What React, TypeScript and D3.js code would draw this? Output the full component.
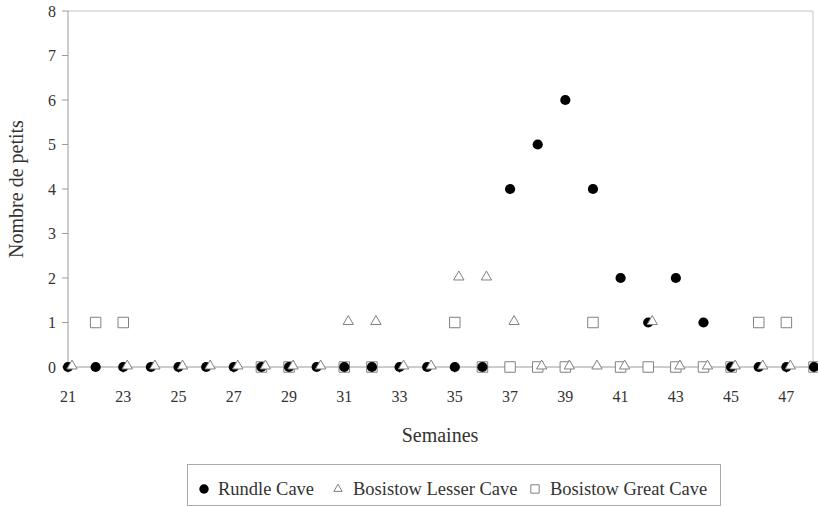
import React from "react";
import * as d3 from "d3";

// Rundle Cave (filled circles)
const rundleWeeks = [21,22,23,24,25,26,27,28,29,30,31,32,33,34,35,36,37,38,39,40,41,42,43,44,45,46,47,48];
const rundleValues = [0,0,0,0,0,0,0,0,0,0,0,0,0,0,0,0,4,5,6,4,2,1,2,1,0,0,0,0];
// Bosistow Lesser Cave (triangles)
const lesserWeeks = [21,23,24,25,26,27,28,29,30,31,32,33,34,35,36,37,38,39,40,41,42,43,44,45,46,47];
const lesserValues = [0,0,0,0,0,0,0,0,0,1,1,0,0,2,2,1,0,0,0,0,1,0,0,0,0,0];
// Bosistow Great Cave (squares)
const greatWeeks = [22,23,28,29,31,32,35,36,37,38,39,40,41,42,43,44,45,46,47,48];
const greatValues = [1,1,0,0,0,0,1,0,0,0,0,1,0,0,0,0,0,1,1,0];

const xTicks = [21,23,25,27,29,31,33,35,37,39,41,43,45,47];
const yTicks = [0,1,2,3,4,5,6,7,8];
const legendLabels = ["Rundle Cave", "Bosistow Lesser Cave", "Bosistow Great Cave"];

const FONT = '"Liberation Serif", "DejaVu Serif", Times, serif';

export default function App() {
  const x = d3.scaleLinear().domain([21, 48]).range([68, 814]);
  const y = d3.scaleLinear().domain([0, 8]).range([367, 11]);
  const circlePath = d3.symbol().type(d3.symbolCircle).size(82)()!;
  const triPath = d3.symbol().type(d3.symbolTriangle).size(46)()!;
  const sqPath = d3.symbol().type(d3.symbolSquare).size(110)()!;
  const triLegend = d3.symbol().type(d3.symbolTriangle).size(30)()!;
  const sqLegend = d3.symbol().type(d3.symbolSquare).size(70)()!;
  const circLegend = d3.symbol().type(d3.symbolCircle).size(70)()!;
  const axisColor = "#9a9a9a";
  const markColor = "#808080";
  const [x0, x1] = x.range();
  const [yb, yt] = y.range();
  const ts = { fontFamily: FONT } as React.CSSProperties;

  return (
    <svg width={818} height={507} style={{ position: "absolute", left: 0, top: 0, background: "#fff", fontFamily: FONT }}>
      <line x1={x0} x2={x1 - 1} y1={yt} y2={yt} stroke="#c4c4c4" />
      <line x1={x1 - 1} x2={x1 - 1} y1={yt} y2={yb} stroke="#c4c4c4" />
      <line x1={x0} x2={x0} y1={yt} y2={yb} stroke={axisColor} />
      <line x1={x0} x2={x1} y1={yb} y2={yb} stroke={axisColor} />
      {yTicks.map((t) => (
        <g key={"y" + t}>
          <line x1={x0 - 6} x2={x0} y1={y(t)} y2={y(t)} stroke={axisColor} />
          <text style={ts} x={x0 - 12} y={y(t)} dy="0.35em" textAnchor="end" fontSize={16} fill="#333">{t}</text>
        </g>
      ))}
      {xTicks.map((t) => (
        <g key={"x" + t}>
          <line x1={x(t)} x2={x(t)} y1={yb} y2={yb + 6} stroke={axisColor} />
          <text style={ts} x={x(t)} y={yb + 35} textAnchor="middle" fontSize={16} fill="#333">{t}</text>
        </g>
      ))}
      {greatWeeks.map((w, i) => (
        <path key={"s" + w} d={sqPath} transform={`translate(${x(w)},${y(greatValues[i])})`} fill="#fff" stroke={markColor} strokeWidth={1} />
      ))}
      {rundleWeeks.map((w, i) => (
        <path key={"c" + w} d={circlePath} transform={`translate(${x(w)},${y(rundleValues[i])})`} fill="#000" />
      ))}
      {lesserWeeks.map((w, i) => (
        <path key={"t" + w} d={triPath} transform={`translate(${x(w) + 4},${y(lesserValues[i]) - 1})`} fill="#fff" stroke={markColor} strokeWidth={1} />
      ))}
      <text style={ts} x={440} y={442} textAnchor="middle" fontSize={20} fill="#333">Semaines</text>
      <text style={ts} transform="translate(23,189) rotate(-90)" textAnchor="middle" fontSize={20} fill="#333">Nombre de petits</text>
      <rect x={187.5} y={464.5} width={533} height={41} fill="#fff" stroke="#aaa" />
      <path d={circLegend} transform="translate(204,489)" fill="#000" />
      <text style={ts} x={218} y={495} fontSize={18.5} fill="#333">{legendLabels[0]}</text>
      <path d={triLegend} transform="translate(338,489)" fill="#fff" stroke={markColor} />
      <text style={ts} x={353} y={495} fontSize={18.5} fill="#333">{legendLabels[1]}</text>
      <path d={sqLegend} transform="translate(535,489)" fill="#fff" stroke={markColor} />
      <text style={ts} x={550} y={495} fontSize={18.5} fill="#333">{legendLabels[2]}</text>
    </svg>
  );
}
